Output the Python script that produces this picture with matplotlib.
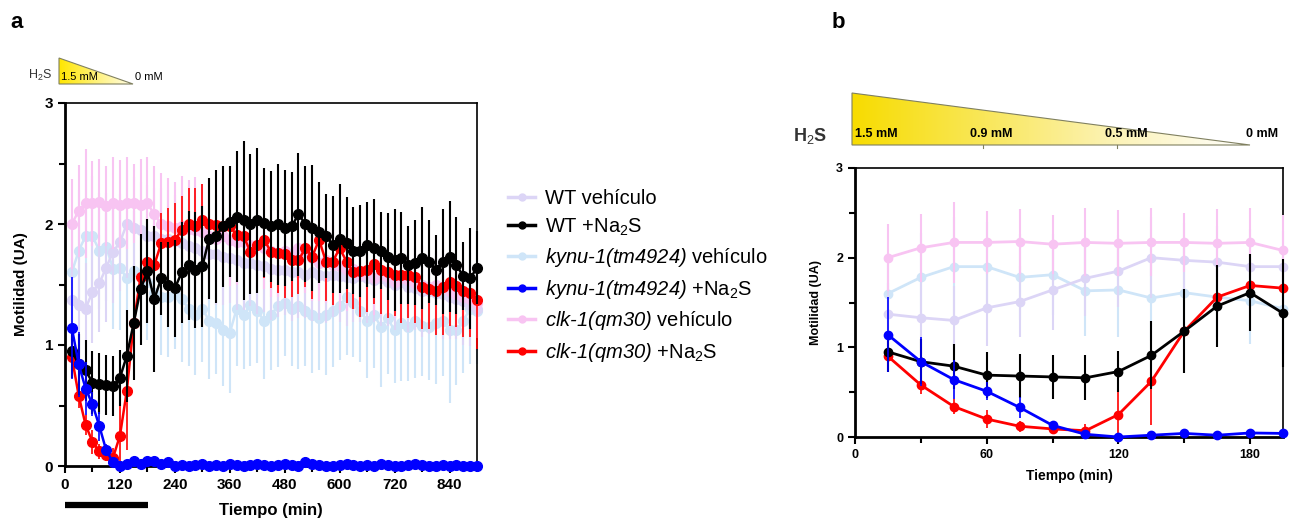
import numpy as np
import matplotlib
matplotlib.use("Agg")
import matplotlib.pyplot as plt
from matplotlib.patches import Polygon
from matplotlib.lines import Line2D
from matplotlib.colors import LinearSegmentedColormap
from matplotlib.ticker import MultipleLocator
import matplotlib.transforms as mtransforms

plt.rcParams["font.family"] = ["Liberation Sans", "DejaVu Sans"]
# en mathtext: rm en cursiva (nombres de genes), sf en redonda (subindices)
plt.rcParams["mathtext.fontset"] = "custom"
plt.rcParams["mathtext.rm"] = "Liberation Sans:italic"
plt.rcParams["mathtext.it"] = "Liberation Sans:italic"
plt.rcParams["mathtext.sf"] = "Liberation Sans"
plt.rcParams["mathtext.bf"] = "Liberation Sans:bold"

# tiempo (min), cada 15 min
tiempo = list(range(15, 901, 15))

wt_veh = [1.37, 1.33, 1.30, 1.44, 1.51, 1.64, 1.77, 1.85, 2.00, 1.97, 1.95, 1.90, 1.90,
          1.88, 1.88, 1.86, 1.84, 1.82, 1.80, 1.78, 1.75, 1.75, 1.73,
          1.72, 1.70, 1.68, 1.68, 1.66, 1.65, 1.63, 1.62, 1.62, 1.60,
          1.60, 1.58, 1.60, 1.58, 1.57, 1.58, 1.57, 1.56, 1.55, 1.57,
          1.55, 1.54, 1.55, 1.52, 1.50, 1.52, 1.48, 1.47, 1.45, 1.45,
          1.43, 1.42, 1.40, 1.38, 1.36, 1.33, 1.30]
wt_veh_err = [0.35, 0.40, 0.38, 0.42, 0.40, 0.45, 0.42, 0.40, 0.45, 0.42, 0.40, 0.42, 0.40,
              0.42, 0.40, 0.38, 0.41, 0.39, 0.43, 0.40, 0.38, 0.42, 0.40,
              0.37, 0.41, 0.39, 0.36, 0.40, 0.38, 0.42, 0.39, 0.37, 0.40,
              0.38, 0.36, 0.40, 0.37, 0.39, 0.35, 0.38, 0.40, 0.36, 0.38,
              0.37, 0.35, 0.39, 0.36, 0.38, 0.34, 0.37, 0.35, 0.38, 0.36,
              0.34, 0.37, 0.35, 0.33, 0.36, 0.34, 0.35]

wt_na2s = [0.95, 0.84, 0.79, 0.69, 0.68, 0.67, 0.66, 0.73, 0.91, 1.18, 1.46, 1.61, 1.38,
           1.55, 1.50, 1.47, 1.60, 1.66, 1.62, 1.65, 1.88, 1.90, 1.98,
           2.02, 2.06, 2.03, 2.00, 2.03, 2.01, 1.98, 2.00, 1.97, 1.98,
           2.08, 2.00, 1.97, 1.93, 1.90, 1.83, 1.88, 1.84, 1.78, 1.78,
           1.83, 1.80, 1.78, 1.73, 1.70, 1.72, 1.66, 1.68, 1.72, 1.69,
           1.62, 1.69, 1.73, 1.66, 1.57, 1.55, 1.64]
wt_na2s_err = [0.22, 0.25, 0.25, 0.26, 0.25, 0.25, 0.25, 0.23, 0.38, 0.47, 0.46, 0.43, 0.60,
               0.30, 0.35, 0.40, 0.42, 0.45, 0.48, 0.50, 0.50, 0.55, 0.50,
               0.46, 0.54, 0.66, 0.58, 0.60, 0.45, 0.46, 0.50, 0.48, 0.45,
               0.51, 0.48, 0.52, 0.42, 0.35, 0.40, 0.45, 0.38, 0.36, 0.38,
               0.35, 0.41, 0.32, 0.36, 0.42, 0.38, 0.32, 0.35, 0.42, 0.34,
               0.29, 0.43, 0.46, 0.40, 0.28, 0.42, 0.30]

kynu_veh = [1.60, 1.78, 1.90, 1.90, 1.78, 1.81, 1.63, 1.64, 1.55, 1.61, 1.56, 1.52, 1.43,
            1.40, 1.40, 1.42, 1.38, 1.30, 1.25, 1.30, 1.20, 1.18, 1.12,
            1.10, 1.30, 1.25, 1.33, 1.28, 1.20, 1.25, 1.32, 1.35, 1.30,
            1.32, 1.28, 1.25, 1.22, 1.25, 1.28, 1.32, 1.40, 1.35, 1.28,
            1.20, 1.25, 1.15, 1.22, 1.12, 1.18, 1.15, 1.20, 1.16, 1.15,
            1.18, 1.20, 1.12, 1.12, 1.20, 1.30, 1.28]
kynu_veh_err = [0.45, 0.50, 0.55, 0.50, 0.48, 0.45, 0.50, 0.52, 0.48, 0.50, 0.45, 0.48, 0.50,
                0.48, 0.50, 0.45, 0.52, 0.47, 0.50, 0.44, 0.48, 0.42, 0.46,
                0.50, 0.47, 0.45, 0.50, 0.43, 0.48, 0.46, 0.50, 0.44, 0.47,
                0.52, 0.45, 0.48, 0.43, 0.50, 0.46, 0.44, 0.48, 0.45, 0.42,
                0.47, 0.44, 0.50, 0.46, 0.43, 0.48, 0.45, 0.47, 0.42, 0.44,
                0.50, 0.46, 0.60, 0.45, 0.43, 0.46, 0.44]

kynu_na2s = [1.14, 0.84, 0.64, 0.51, 0.33, 0.13, 0.03, 0.00, 0.02, 0.04, 0.02, 0.045, 0.04,
             0.02, 0.03, 0.00, 0.01, 0.00, 0.01, 0.02, 0.00, 0.01, 0.00,
             0.02, 0.01, 0.00, 0.01, 0.02, 0.01, 0.00, 0.01, 0.02, 0.01,
             0.00, 0.03, 0.02, 0.01, 0.00, 0.00, 0.01, 0.02, 0.01, 0.00,
             0.01, 0.00, 0.02, 0.01, 0.00, 0.00, 0.01, 0.02, 0.01, 0.00,
             0.00, 0.01, 0.00, 0.01, 0.00, 0.00, 0.00]
kynu_na2s_err = [0.42, 0.27, 0.22, 0.10, 0.12, 0.05, 0.02, 0.01, 0.01, 0.02, 0.01, 0.02, 0.02,
                 0.01, 0.02, 0.01, 0.01, 0.02, 0.01, 0.01, 0.02, 0.01, 0.01,
                 0.02, 0.01, 0.01, 0.02, 0.01, 0.01, 0.02, 0.01, 0.02, 0.01,
                 0.01, 0.02, 0.02, 0.01, 0.01, 0.01, 0.02, 0.01, 0.01, 0.02,
                 0.01, 0.01, 0.02, 0.01, 0.01, 0.01, 0.02, 0.01, 0.01, 0.01,
                 0.02, 0.01, 0.01, 0.01, 0.02, 0.01, 0.01]

clk_veh = [2.00, 2.11, 2.17, 2.17, 2.18, 2.15, 2.17, 2.16, 2.17, 2.17, 2.16, 2.17, 2.08,
           2.00, 1.98, 1.97, 1.98, 1.96, 1.95, 1.93, 1.90, 1.88, 1.90,
           1.87, 1.85, 1.85, 1.83, 1.83, 1.80, 1.78, 1.76, 1.78, 1.75,
           1.80, 1.77, 1.72, 1.68, 1.70, 1.66, 1.65, 1.62, 1.63, 1.58,
           1.60, 1.55, 1.58, 1.56, 1.52, 1.55, 1.54, 1.51, 1.50, 1.48,
           1.50, 1.47, 1.45, 1.42, 1.40, 1.38, 1.35]
clk_veh_err = [0.37, 0.38, 0.45, 0.35, 0.36, 0.33, 0.38, 0.37, 0.38, 0.33, 0.38, 0.38, 0.40,
               0.42, 0.40, 0.38, 0.42, 0.40, 0.44, 0.40, 0.38, 0.36, 0.40,
               0.38, 0.35, 0.37, 0.40, 0.36, 0.34, 0.38, 0.36, 0.33, 0.35,
               0.37, 0.34, 0.36, 0.32, 0.35, 0.33, 0.36, 0.34, 0.31, 0.35,
               0.33, 0.30, 0.34, 0.32, 0.30, 0.33, 0.31, 0.29, 0.32, 0.30,
               0.28, 0.31, 0.29, 0.30, 0.28, 0.27, 0.29]

clk_na2s = [0.90, 0.58, 0.34, 0.20, 0.12, 0.09, 0.07, 0.25, 0.62, 1.18, 1.56, 1.69, 1.66,
            1.84, 1.85, 1.87, 1.95, 2.00, 1.98, 2.03, 2.00, 1.99, 1.98,
            1.98, 1.91, 1.90, 1.77, 1.83, 1.87, 1.77, 1.76, 1.75, 1.70,
            1.70, 1.80, 1.73, 1.87, 1.69, 1.69, 1.80, 1.69, 1.60, 1.61,
            1.62, 1.67, 1.62, 1.60, 1.58, 1.58, 1.58, 1.56, 1.48, 1.46,
            1.45, 1.48, 1.52, 1.49, 1.45, 1.43, 1.37]
clk_na2s_err = [0.10, 0.10, 0.08, 0.10, 0.06, 0.05, 0.08, 0.26, 0.49, 0.35, 0.20, 0.17, 0.15,
                0.25, 0.28, 0.30, 0.28, 0.30, 0.32, 0.30, 0.28, 0.30, 0.33,
                0.30, 0.32, 0.35, 0.30, 0.28, 0.32, 0.30, 0.33, 0.36, 0.30,
                0.28, 0.32, 0.35, 0.30, 0.33, 0.36, 0.32, 0.34, 0.30, 0.38,
                0.35, 0.33, 0.36, 0.38, 0.34, 0.40, 0.36, 0.38, 0.35, 0.33,
                0.37, 0.40, 0.36, 0.34, 0.38, 0.36, 0.40]

n_b = 13  # panel b: primeros 195 min

c_lav = "#dcd5f6"
c_lblue = "#cfe5f8"
c_pink = "#f8c4f2"

NA2S = "+Na$_\\mathsf{2}$S"
series = [
    ("WT vehículo", wt_veh, wt_veh_err, c_lav, 1.5, 2),
    ("WT " + NA2S, wt_na2s, wt_na2s_err, "black", 1.5, 6),
    ("$kynu\u20101(tm4924)$ vehículo", kynu_veh, kynu_veh_err, c_lblue, 1.5, 1),
    ("$kynu\u20101(tm4924)$ " + NA2S, kynu_na2s, kynu_na2s_err, "#0000ff", 1.2, 7),
    ("$clk\u20101(qm30)$ vehículo", clk_veh, clk_veh_err, c_pink, 1.5, 3),
    ("$clk\u20101(qm30)$ " + NA2S, clk_na2s, clk_na2s_err, "#ff0000", 1.2, 5),
]

fig = plt.figure(figsize=(12.91, 5.22), dpi=100)
W, H = 1291, 522
ax_a = fig.add_axes([65 / W, 1 - 466 / H, 412 / W, 363 / H])
ax_b = fig.add_axes([855 / W, 1 - 437 / H, 428 / W, 269 / H])

handles = []
for label, y, e, c, elw, z in series:
    ax_a.errorbar(tiempo, y, yerr=e, color=c, marker="o", ms=7, lw=1.8,
                  elinewidth=elw, capsize=0, zorder=z, clip_on=False)
    ax_b.errorbar(tiempo[:n_b], y[:n_b], yerr=e[:n_b], color=c, marker="o", ms=6,
                  lw=2.0, elinewidth=elw, capsize=0, zorder=z, clip_on=False)
    handles.append(Line2D([], [], color=c, marker="o", ms=5, lw=2.5, label=label))


def style_axes(ax, xmax, xmaj, xmin, fs):
    ax.set_ylim(0, 3)
    ax.set_xlim(0, xmax)
    ax.yaxis.set_major_locator(MultipleLocator(1))
    ax.yaxis.set_minor_locator(MultipleLocator(0.5))
    ax.xaxis.set_major_locator(MultipleLocator(xmaj))
    ax.xaxis.set_minor_locator(MultipleLocator(xmin))
    for s in ["left", "bottom"]:
        ax.spines[s].set_linewidth(2.0)
    for s in ["top", "right"]:
        ax.spines[s].set_linewidth(1.2)
    ax.tick_params(which="both", direction="out", width=1.5, labelsize=fs,
                   top=False, right=False)
    ax.tick_params(which="major", length=5)
    ax.tick_params(which="minor", length=4)
    for t in ax.get_xticklabels() + ax.get_yticklabels():
        t.set_fontweight("bold")


style_axes(ax_a, 900, 120, 60, 11)
ax_a.set_xlabel("Tiempo (min)", fontsize=12, fontweight="bold", labelpad=8)
ax_a.set_ylabel("Motilidad (UA)", fontsize=11, fontweight="bold", labelpad=12)

style_axes(ax_b, 195, 60, 30, 9)
ax_b.set_xlabel("Tiempo (min)", fontsize=10, fontweight="bold", labelpad=6)
ax_b.set_ylabel("Motilidad (UA)", fontsize=9, fontweight="bold", labelpad=10)

# barra negra de exposicion (0-180 min)
trans = mtransforms.blended_transform_factory(ax_a.transData, ax_a.transAxes)
ax_a.plot([0, 182], [-0.107, -0.107], color="black", lw=4.5, transform=trans,
          clip_on=False, solid_capstyle="butt")

fig.legend(handles=handles, loc="upper left", bbox_to_anchor=(508 / W, 1 - 189 / H),
           frameon=False, fontsize=14.5, handlelength=1.35, handletextpad=0.5,
           labelspacing=0.42, borderpad=0, borderaxespad=0)

# capa superior para triangulos de H2S y letras
ov = fig.add_axes([0, 0, 1, 1])
ov.set_xlim(0, W)
ov.set_ylim(H, 0)
ov.axis("off")

cmap_a = LinearSegmentedColormap.from_list("ya", ["#ffe600", "#fff27a", "#fffde8"])
cmap_b = LinearSegmentedColormap.from_list("yb", ["#f7dc00", "#f9e75a", "#fcf3b8", "#ffffff"])
grad = np.linspace(0, 1, 256).reshape(1, -1)


def gradient_triangle(x0, x1, ytop, ybot, cmap):
    tri = Polygon([[x0, ytop], [x0, ybot], [x1, ybot]], closed=True,
                  facecolor="none", edgecolor="#808060", lw=0.8, zorder=3)
    ov.add_patch(tri)
    im = ov.imshow(grad, cmap=cmap, extent=[x0, x1, ybot, ytop], aspect="auto", zorder=2)
    im.set_clip_path(tri)


gradient_triangle(59, 133, 58, 84, cmap_a)
gradient_triangle(852, 1250, 93, 145, cmap_b)
for xt in [983, 1117]:
    ov.plot([xt, xt], [145, 148], color="#808060", lw=0.8)
ov.set_xlim(0, W)
ov.set_ylim(H, 0)

H2S = "H$_\\mathsf{2}$S"
ov.text(28, 75, H2S, fontsize=9, va="center", ha="left", color="#333333")
ov.text(61, 77, "1.5 mM", fontsize=8, va="center", ha="left")
ov.text(135, 77, "0 mM", fontsize=8, va="center", ha="left")

ov.text(793, 136, H2S, fontsize=13, fontweight="bold", va="center", ha="left",
        color="#333333")
ov.text(855, 134, "1.5 mM", fontsize=9, fontweight="bold", va="center", ha="left")
ov.text(991, 134, "0.9 mM", fontsize=9, fontweight="bold", va="center", ha="center")
ov.text(1126, 134, "0.5 mM", fontsize=9, fontweight="bold", va="center", ha="center")
ov.text(1262, 134, "0 mM", fontsize=9, fontweight="bold", va="center", ha="center")

ov.text(10, 22, "a", fontsize=16, fontweight="bold", va="center", ha="left")
ov.text(832, 22, "b", fontsize=16, fontweight="bold", va="center", ha="left")

fig.savefig("out.png", dpi=100)
